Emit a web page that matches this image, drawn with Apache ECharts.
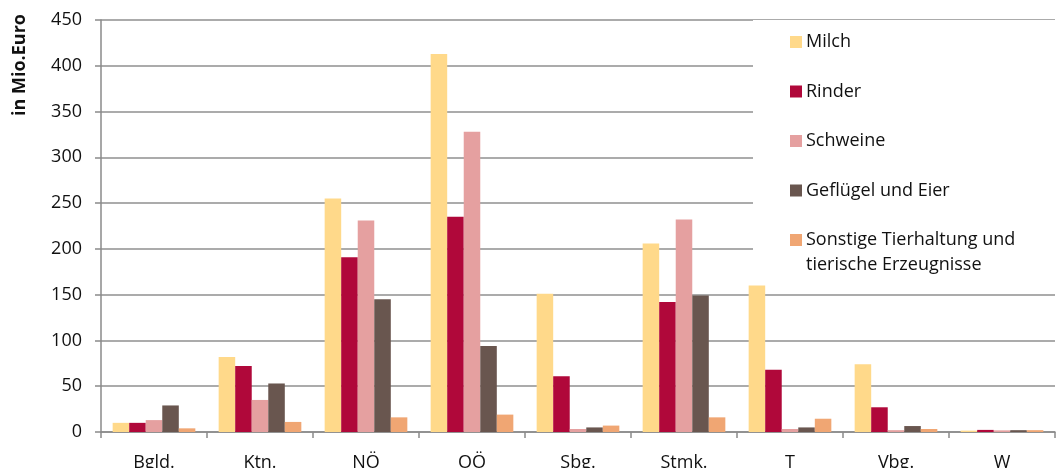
<!DOCTYPE html>
<html>
<head>
<meta charset="utf-8">
<script src="https://cdn.jsdelivr.net/npm/echarts@6/dist/echarts.min.js"></script>
<style>
    html, body { margin: 0; padding: 0; background: #fff; }
    #chart { width: 1058px; height: 468px; }
</style>
</head>
<body>
<div id="chart"></div>
<script>
    // Bundesländer
    var regions = ['Bgld.', 'Ktn.', 'NÖ', 'OÖ', 'Sbg.', 'Stmk.', 'T', 'Vbg.', 'W'];

    // Werte in Mio. Euro
    var milch     = [10, 82, 255, 413, 151, 206, 160, 74, 1.5];
    var rinder    = [10, 72, 191, 235, 61, 142, 68, 27, 2.3];
    var schweine  = [13, 35, 231, 328, 3.3, 232, 3.3, 2, 1.8];
    var gefluegel = [29, 53, 145, 94, 5, 149, 5, 6.5, 2];
    var sonstige  = [4, 11, 16, 19, 7, 16, 14.5, 3.3, 2];

    var seriesNames = ['Milch', 'Rinder', 'Schweine', 'Geflügel und Eier', 'Sonstige Tierhaltung und'];
    var seriesColors = ['#FFD98A', '#B0083A', '#E5A0A0', '#69564F', '#F0A673'];
    var seriesData = [milch, rinder, schweine, gefluegel, sonstige];

    var yTicks = { min: 0, max: 450, interval: 50 };

    var font = '"Open Sans", "Noto Sans", sans-serif';

    var myChart = echarts.init(document.getElementById('chart'));

    var series = [];
    for (var i = 0; i < seriesNames.length; i++) {
        series.push({
            type: 'bar',
            name: seriesNames[i],
            data: seriesData[i],
            barGap: '0%',
            barCategoryGap: '22%',
            itemStyle: {
                color: seriesColors[i]
            }
        });
    }

    var option = {
        animation: false,
        backgroundColor: '#fff',
        textStyle: { fontFamily: font },
        grid: {
            left: 101,
            right: 3,
            top: 20,
            bottom: 36,
            containLabel: false,
            outerBoundsMode: 'none'
        },
        legend: {
            orient: 'vertical',
            left: 753,
            top: 20,
            padding: [12, 50, 33, 37],
            backgroundColor: '#fff',
            itemWidth: 12,
            itemHeight: 12,
            itemGap: 29.5,
            icon: 'rect',
            textStyle: {
                fontFamily: font,
                fontSize: 18,
                lineHeight: 20,
                color: '#111',
                padding: [0, 0, 0, -1]
            },
            data: seriesNames
        },
        graphic: [
            {
                type: 'text',
                left: 806,
                top: 256,
                z: 100,
                style: {
                    text: 'tierische Erzeugnisse',
                    font: '18px ' + font,
                    fill: '#111'
                }
            },
            {
                type: 'text',
                x: 20,
                y: 65,
                rotation: Math.PI / 2,
                style: {
                    text: 'in Mio.Euro',
                    font: 'bold 18px ' + font,
                    fill: '#111',
                    align: 'center',
                    verticalAlign: 'middle'
                }
            }
        ],
        xAxis: {
            type: 'category',
            data: regions,
            boundaryGap: true,
            axisLine: { lineStyle: { color: '#8a8a8a', width: 1.5 } },
            axisTick: { show: true, length: 6, lineStyle: { color: '#8a8a8a', width: 1.5 } },
            axisLabel: {
                margin: 22,
                fontSize: 18,
                color: '#111',
                fontFamily: font
            }
        },
        yAxis: {
            type: 'value',
            min: yTicks.min,
            max: yTicks.max,
            interval: yTicks.interval,
            axisLine: { show: true, lineStyle: { color: '#8a8a8a', width: 1.5 } },
            axisTick: { show: true, length: 6, lineStyle: { color: '#8a8a8a', width: 1.5 } },
            axisLabel: {
                margin: 19,
                fontSize: 18,
                color: '#111',
                fontFamily: font
            },
            splitLine: { lineStyle: { color: '#8f8f8f', width: 1.5 } }
        },
        series: series
    };

    myChart.setOption(option);
</script>
</body>
</html>
